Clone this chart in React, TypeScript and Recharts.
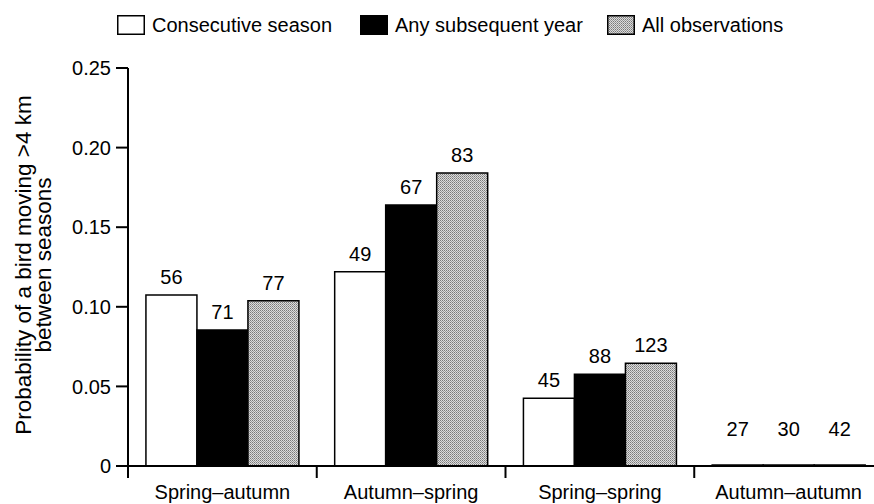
import React from 'react';
import { BarChart, Bar, XAxis, YAxis, LabelList } from 'recharts';

const categories = ['Spring–autumn', 'Autumn–spring', 'Spring–spring', 'Autumn–autumn'];
const consecutive = [0.1074, 0.122, 0.0425, 0];
const subsequent = [0.0854, 0.164, 0.0576, 0];
const allObs = [0.1038, 0.184, 0.0645, 0];
const nConsecutive = [56, 49, 45, 27];
const nSubsequent = [71, 67, 88, 30];
const nAll = [77, 83, 123, 42];
const yTicks = [0, 0.05, 0.1, 0.15, 0.2, 0.25];

const data = categories.map((name, i) => ({
  name,
  consecutive: consecutive[i],
  subsequent: subsequent[i],
  allObs: allObs[i],
  nConsecutive: nConsecutive[i],
  nSubsequent: nSubsequent[i],
  nAll: nAll[i],
}));

const FONT = '"Liberation Sans", Arial, Helvetica, sans-serif';
const W = 890;
const H = 504;
const LEFT = 128;
const RIGHT = 7;
const BAND = (W - LEFT - RIGHT) / categories.length;

// bar labels: sample sizes; empty bars get their number lifted off the axis
function CountLabel(props: any) {
  const vb = props.viewBox || {};
  const x = props.x ?? vb.x;
  const y = props.y ?? vb.y;
  const width = props.width ?? vb.width;
  const height = props.height ?? vb.height;
  if (x == null || y == null) return null;
  const empty = !height || Math.abs(height) < 1.5;
  return (
    <text
      x={x + width / 2}
      y={y - (empty ? 29 : 11)}
      textAnchor="middle"
      fontSize={20}
      fontFamily={FONT}
      fill="#000"
    >
      {props.value}
    </text>
  );
}

function CategoryTick(props: any) {
  const { x, y, payload } = props;
  const half = payload && payload.offset ? payload.offset : BAND / 2;
  return (
    <g>
      <line x1={x - half} y1={y} x2={x - half} y2={y + 12} stroke="#000" strokeWidth={2} />
      <text x={x} y={y + 33} textAnchor="middle" fontSize={20} fontFamily={FONT} fill="#000">
        {payload.value}
      </text>
    </g>
  );
}

function Swatch({ kind }: { kind: 'white' | 'black' | 'grey' }) {
  return (
    <svg width={28} height={20} style={{ display: 'block' }}>
      <defs>
        <pattern id="legendDots" width="2" height="2" patternUnits="userSpaceOnUse">
          <rect width="2" height="2" fill="#dcdcdc" />
          <rect width="1" height="1" fill="#7a7a7a" />
          <rect x="1" y="1" width="1" height="1" fill="#9a9a9a" />
        </pattern>
      </defs>
      <rect
        x={0.75}
        y={0.75}
        width={26.5}
        height={18.5}
        fill={kind === 'white' ? '#fff' : kind === 'black' ? '#000' : 'url(#legendDots)'}
        stroke="#000"
        strokeWidth={1.5}
      />
    </svg>
  );
}

const legendItems: { label: string; kind: 'white' | 'black' | 'grey'; left: number }[] = [
  { label: 'Consecutive season', kind: 'white', left: 117 },
  { label: 'Any subsequent year', kind: 'black', left: 360 },
  { label: 'All observations', kind: 'grey', left: 607 },
];

export default function App() {
  return (
    <div
      style={{
        position: 'absolute',
        left: 0,
        top: 0,
        width: 874,
        height: 504,
        overflow: 'hidden',
        background: '#fff',
      }}
    >
      {legendItems.map((it) => (
        <div
          key={it.label}
          style={{
            position: 'absolute',
            left: it.left,
            top: 14,
            display: 'flex',
            alignItems: 'center',
            gap: 7,
            fontFamily: FONT,
            fontSize: 20,
            color: '#000',
            whiteSpace: 'nowrap',
            lineHeight: '22px',
          }}
        >
          <Swatch kind={it.kind} />
          <span>{it.label}</span>
        </div>
      ))}
      <BarChart
        width={W}
        height={H}
        data={data}
        margin={{ top: 68, right: RIGHT, left: 0, bottom: 0 }}
        barCategoryGap="9.5%"
        barGap={0}
      >
        <defs>
          <pattern id="dots" width="2" height="2" patternUnits="userSpaceOnUse">
            <rect width="2" height="2" fill="#dcdcdc" />
            <rect width="1" height="1" fill="#7a7a7a" />
            <rect x="1" y="1" width="1" height="1" fill="#9a9a9a" />
          </pattern>
        </defs>
        <XAxis
          dataKey="name"
          height={38}
          axisLine={{ stroke: '#000', strokeWidth: 2 }}
          tickLine={false}
          tickSize={0}
          tickMargin={0}
          tick={<CategoryTick />}
          interval={0}
        />
        <YAxis
          width={LEFT}
          domain={[0, 0.25]}
          ticks={yTicks}
          tickSize={12}
          tickMargin={5}
          axisLine={{ stroke: '#000', strokeWidth: 2 }}
          tickLine={{ stroke: '#000', strokeWidth: 2 }}
          tick={{ fill: '#000', fontSize: 20, fontFamily: FONT }}
          tickFormatter={(v: number) => (v === 0 ? '0' : v.toFixed(2))}
          label={() => (
            <g>
              <text
                x={31}
                y={265}
                transform="rotate(-90, 31, 265)"
                textAnchor="middle"
                fontSize={22.5}
                fontFamily={FONT}
                fill="#000"
              >
                Probability of a bird moving &gt;4 km
              </text>
              <text
                x={51}
                y={265}
                transform="rotate(-90, 51, 265)"
                textAnchor="middle"
                fontSize={22.5}
                fontFamily={FONT}
                fill="#000"
              >
                between seasons
              </text>
            </g>
          )}
        />
        <Bar dataKey="consecutive" fill="#fff" stroke="#000" strokeWidth={1.5} minPointSize={1} isAnimationActive={false}>
          <LabelList dataKey="nConsecutive" content={<CountLabel />} />
        </Bar>
        <Bar dataKey="subsequent" fill="#000" stroke="#000" strokeWidth={1.5} minPointSize={1} isAnimationActive={false}>
          <LabelList dataKey="nSubsequent" content={<CountLabel />} />
        </Bar>
        <Bar dataKey="allObs" fill="url(#dots)" stroke="#000" strokeWidth={1.5} minPointSize={1} isAnimationActive={false}>
          <LabelList dataKey="nAll" content={<CountLabel />} />
        </Bar>
      </BarChart>
    </div>
  );
}
